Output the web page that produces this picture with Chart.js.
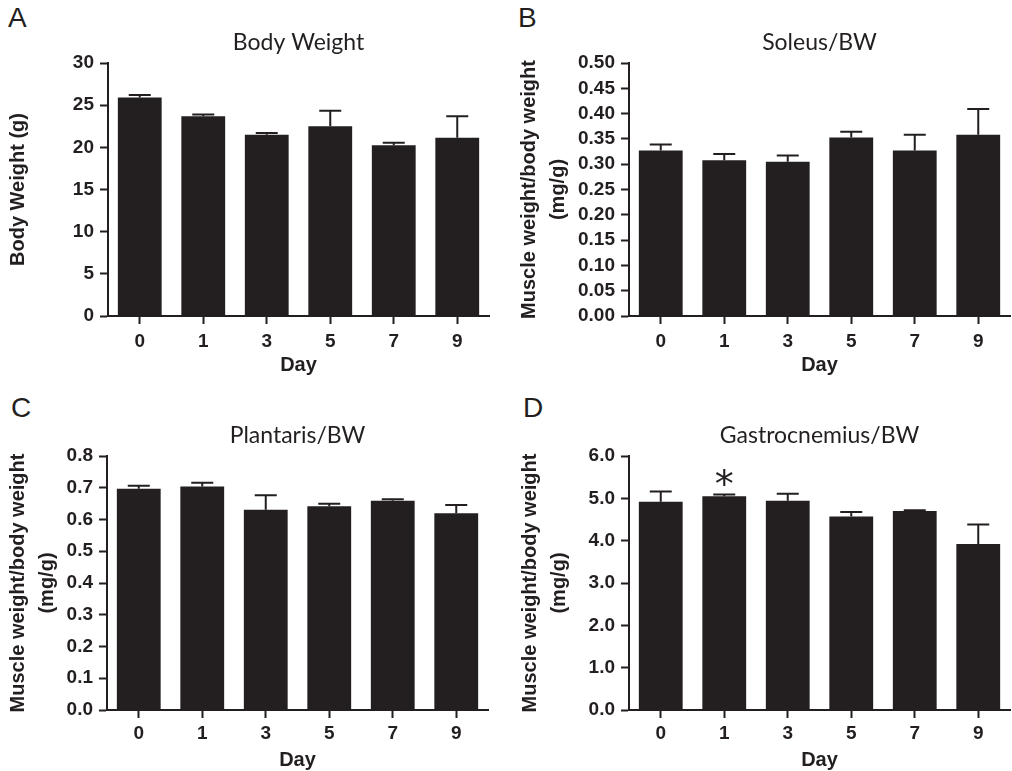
<!DOCTYPE html>
<html>
<head>
<meta charset="utf-8">
<script src="https://cdn.jsdelivr.net/npm/chart.js@4/dist/chart.umd.min.js"></script>
<style>
  html, body { margin: 0; padding: 0; background: #fff; }
  body { width: 1012px; height: 771px; position: relative; overflow: hidden; }
  canvas { position: absolute; }
  .lbl { position: absolute; font-family: "Liberation Sans", Arial, sans-serif; font-size: 28px; line-height: 28px; color: #231f20; }
</style>
</head>
<body>
<div class="lbl" style="left:8px; top:4px;">A</div>
<div class="lbl" style="left:518px; top:4px;">B</div>
<div class="lbl" style="left:11px; top:394px;">C</div>
<div class="lbl" style="left:523px; top:394px;">D</div>
<canvas id="cA" width="506" height="385" style="left:0px; top:0px;"></canvas>
<canvas id="cB" width="506" height="385" style="left:506px; top:0px;"></canvas>
<canvas id="cC" width="506" height="385" style="left:0px; top:393px;"></canvas>
<canvas id="cD" width="506" height="385" style="left:506px; top:393px;"></canvas>
<script>
// ---- data ----
const days = ["0", "1", "3", "5", "7", "9"];

const bodyWeightMean = [25.9, 23.7, 21.5, 22.5, 20.25, 21.15];
const bodyWeightSEM  = [0.3, 0.2, 0.2, 1.85, 0.3, 2.55];

const soleusMean = [0.327, 0.308, 0.305, 0.353, 0.327, 0.358];
const soleusSEM  = [0.012, 0.012, 0.012, 0.011, 0.031, 0.051];

const plantarisMean = [0.697, 0.704, 0.631, 0.642, 0.659, 0.620];
const plantarisSEM  = [0.009, 0.012, 0.045, 0.008, 0.005, 0.026];

const gastrocMean = [4.92, 5.05, 4.94, 4.57, 4.70, 3.92];
const gastrocSEM  = [0.24, 0.04, 0.17, 0.11, 0.02, 0.46];
const gastrocSig  = ["", "*", "", "", "", ""];

const noSig = ["", "", "", "", "", ""];

// ---- styling ----
const INK = "#231f20";
const SANS = "'Liberation Sans', Arial, sans-serif";
const tickFont = { family: SANS, size: 19, weight: "bold" };

const errorBarPlugin = {
  id: "errorBars",
  afterDatasetsDraw(chart, args, opts) {
    const ctx = chart.ctx;
    const meta = chart.getDatasetMeta(0);
    const yScale = chart.scales.y;
    const data = chart.data.datasets[0].data;
    ctx.save();
    ctx.strokeStyle = INK;
    ctx.fillStyle = INK;
    ctx.lineWidth = 2;
    meta.data.forEach((bar, i) => {
      const x = bar.x;
      const yMean = yScale.getPixelForValue(data[i]);
      const yTop = yScale.getPixelForValue(data[i] + opts.sem[i]);
      ctx.beginPath();
      ctx.moveTo(x, yMean);
      ctx.lineTo(x, yTop);
      ctx.moveTo(x - 11, yTop);
      ctx.lineTo(x + 11, yTop);
      ctx.stroke();
      if (opts.sig && opts.sig[i]) {
        ctx.font = "38px 'DejaVu Sans', sans-serif";
        ctx.textAlign = "center";
        ctx.textBaseline = "alphabetic";
        ctx.fillText(opts.sig[i], x, yTop + 2);
      }
    });
    ctx.restore();
  }
};

function makeChart(id, cfg) {
  return new Chart(document.getElementById(id), {
    type: "bar",
    data: {
      labels: days,
      datasets: [{
        data: cfg.mean,
        backgroundColor: INK,
        borderWidth: 0,
        barPercentage: 0.69,
        categoryPercentage: 1.0
      }]
    },
    options: {
      responsive: false,
      animation: false,
      devicePixelRatio: 1,
      layout: { padding: { left: 0, right: cfg.padRight, top: 0, bottom: 0 } },
      plugins: {
        legend: { display: false },
        tooltip: { enabled: false },
        title: {
          display: true,
          text: cfg.title,
          fullSize: false,
          color: INK,
          font: { family: "Lato, 'Open Sans', sans-serif", size: 23, weight: "normal", lineHeight: 1.2 },
          padding: { top: 29, bottom: 6.4 }
        },
        errorBars: { sem: cfg.sem, sig: cfg.sig }
      },
      scales: {
        x: {
          grid: { display: true, drawOnChartArea: false, drawTicks: true, tickLength: 8, offset: false, color: INK, tickColor: INK, tickWidth: 2 },
          border: { display: true, color: INK, width: 2 },
          ticks: { color: INK, font: tickFont, padding: cfg.xLabPad, autoSkip: false, maxRotation: 0 },
          title: {
            display: true, text: "Day", color: INK,
            font: { family: SANS, size: 20, weight: "bold", lineHeight: 1.2 },
            padding: { top: 0, bottom: cfg.dayPad }
          },
          afterFit(scale) { scale.height = cfg.xHeight; }
        },
        y: {
          min: 0,
          max: cfg.max,
          ticks: {
            stepSize: cfg.step,
            autoSkip: false,
            color: INK,
            font: tickFont,
            padding: 6,
            callback: (v) => Number(v).toFixed(cfg.dec)
          },
          grid: { display: true, drawOnChartArea: false, drawTicks: true, tickLength: 8, color: INK, tickColor: INK, tickWidth: 2 },
          border: { display: true, color: INK, width: 2 },
          title: {
            display: true, text: cfg.yTitle, color: INK,
            font: { family: SANS, size: 20, weight: "bold", lineHeight: cfg.yLH },
            padding: { top: cfg.yTitlePad, bottom: 0 }
          },
          afterFit(scale) { scale.width = cfg.yWidth; }
        }
      }
    },
    plugins: [errorBarPlugin]
  });
}

makeChart("cA", {
  mean: bodyWeightMean, sem: bodyWeightSEM, sig: noSig,
  title: "Body Weight", yTitle: "Body Weight (g)", yLH: 1.2, yTitlePad: 6,
  max: 30, step: 5, dec: 0,
  yWidth: 108, padRight: 17, xHeight: 69, xLabPad: 6, dayPad: 7.5
});
makeChart("cB", {
  mean: soleusMean, sem: soleusSEM, sig: noSig,
  title: "Soleus/BW", yTitle: ["Muscle weight/body weight", "(mg/g)"], yLH: 1.45, yTitlePad: 8.5,
  max: 0.5, step: 0.05, dec: 2,
  yWidth: 123, padRight: 2, xHeight: 69, xLabPad: 6, dayPad: 7.5
});
makeChart("cC", {
  mean: plantarisMean, sem: plantarisSEM, sig: noSig,
  title: "Plantaris/BW", yTitle: ["Muscle weight/body weight", "(mg/g)"], yLH: 1.45, yTitlePad: 3.5,
  max: 0.8, step: 0.1, dec: 1,
  yWidth: 107, padRight: 18, xHeight: 68, xLabPad: 4, dayPad: 5.3
});
makeChart("cD", {
  mean: gastrocMean, sem: gastrocSEM, sig: gastrocSig,
  title: "Gastrocnemius/BW", yTitle: ["Muscle weight/body weight", "(mg/g)"], yLH: 1.45, yTitlePad: 9.5,
  max: 6, step: 1, dec: 1,
  yWidth: 123, padRight: 2, xHeight: 68, xLabPad: 4, dayPad: 5.3
});
</script>
</body>
</html>
